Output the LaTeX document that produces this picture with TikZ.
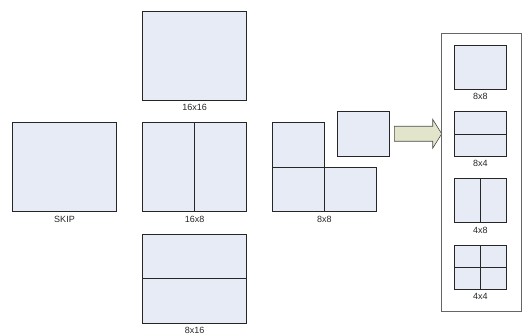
\documentclass[tikz,border=0pt]{standalone}
\usepackage{fontspec}
\setmainfont{Liberation Sans}
\usepackage{xcolor}
\usepackage{tikz}
\usetikzlibrary{positioning,calc}

\definecolor{blockfill}{HTML}{E6EBF6}
\definecolor{arrowfill}{HTML}{E2E5C9}

\begin{document}
\begin{tikzpicture}[
    x=1pt, y=1pt,
    blk/.style={rectangle, draw=black!85, fill=blockfill, line width=0.6pt, inner sep=0pt, outer sep=0pt, minimum width=104pt, minimum height=89pt},
    qblk/.style={rectangle, draw=black!85, fill=blockfill, line width=0.6pt, inner sep=0pt, outer sep=0pt, minimum width=52pt, minimum height=44.5pt},
    frame/.style={rectangle, draw=black!60, line width=0.6pt, inner sep=0pt, minimum width=79.8pt, minimum height=278.4pt},
    lbl/.style={inner sep=0pt, font=\fontsize{9}{10}\selectfont, text=black!85},
    divline/.style={draw=black!85, line width=0.6pt},
    bigarrow/.style={draw=black!70, fill=arrowfill, line width=0.6pt, line join=miter}
]
    \useasboundingbox (0,0) rectangle (522,334);

    % partitions of the macroblock
    \node [blk] (skip) at (64.5,166.8) {};
    \node [blk] (b1616) at (194.7,278.2) {};
    \node [blk] (b168) at (194.7,166.8) {};
    \node [blk] (b816) at (194.7,55.5) {};

    \draw [divline] (b168.north) -- (b168.south);
    \draw [divline] (b816.west) -- (b816.east);

    \node [lbl, below=4pt of skip] (tskip) {SKIP};
    \node [lbl, below=4pt of b1616] (t1616) {16x16};
    \node [lbl, below=4pt of b168] (t168) {16x8};
    \node [lbl, below=4pt of b816] (t816) {8x16};

    % 8x8 split
    \node [qblk] (q1) at (298.3,189) {};
    \node [qblk, below=0pt of q1] (q2) {};
    \node [qblk, right=0pt of q2] (q3) {};
    \node [lbl, below=4pt of q2.south east] (t88) {8x8};

    \node [qblk, minimum height=45pt] (sq) at (363.3,200.2) {};

    % arrow to sub-partitions
    \draw [bigarrow, shift={(sq.east)}] (5,7.5) -- (43.4,7.5) -- (43.4,14.5) -- (52.4,0)
        -- (43.4,-14.5) -- (43.4,-7.5) -- (5,-7.5) -- cycle;

    % sub-partitions of an 8x8 block
    \node [frame] (grp) at (480.9,161.5) {};

    \node [qblk, minimum height=44.3pt] (r1) at (480.3,266.8) {};
    \node [qblk, minimum height=44.3pt, below=22.4pt of r1] (r2) {};
    \node [qblk, minimum height=44.3pt, below=22.4pt of r2] (r3) {};
    \node [qblk, minimum height=44.3pt, below=22.4pt of r3] (r4) {};

    \draw [divline] (r2.west) -- (r2.east);
    \draw [divline] (r3.north) -- (r3.south);
    \draw [divline] (r4.west) -- (r4.east);
    \draw [divline] (r4.north) -- (r4.south);

    \node [lbl, below=4pt of r1] (tr1) {8x8};
    \node [lbl, below=4pt of r2] (tr2) {8x4};
    \node [lbl, below=4pt of r3] (tr3) {4x8};
    \node [lbl, below=4pt of r4] (tr4) {4x4};
\end{tikzpicture}
\end{document}
